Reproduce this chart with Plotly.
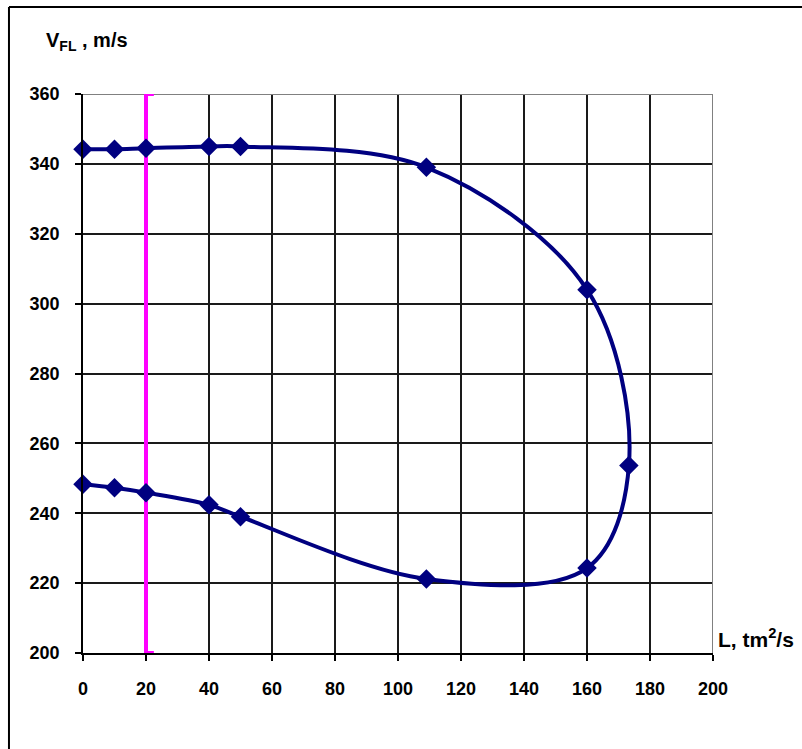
import plotly.graph_objects as go

# Data (L in tm^2/s, V_FL in m/s), contour order
L_vals = [0, 10, 20, 40, 50, 109, 160, 173.3, 160, 109, 50, 40, 20, 10, 0]
V_vals = [344.2, 344.2, 344.5, 345, 345, 339, 304, 253.7, 224.3, 221.2, 239, 242.4, 245.9, 247.3, 248.3]

# Vertical limit line (magenta bracket)
limit_L = 20
limit_V = [200, 360]
bracket = 2.5

x_range = [0, 200]
y_range = [200, 360]
x_ticks = list(range(0, 201, 20))
y_ticks = list(range(200, 361, 20))

FONT = "Liberation Sans, Arial, sans-serif"
NAVY = "#000080"

fig = go.Figure()

# gray top/right plot-area edges
fig.add_trace(go.Scatter(
    x=[x_range[0], x_range[1], x_range[1]],
    y=[y_range[1], y_range[1], y_range[0]],
    mode="lines", line=dict(color="#808080", width=2),
    hoverinfo="skip", cliponaxis=False,
))

fig.add_trace(go.Scatter(
    x=[limit_L + bracket, limit_L, limit_L, limit_L + bracket],
    y=[limit_V[1], limit_V[1], limit_V[0], limit_V[0]],
    mode="lines",
    line=dict(color="#FF00FF", width=4),
    hoverinfo="skip",
    cliponaxis=False,
))

fig.add_trace(go.Scatter(
    x=L_vals, y=V_vals,
    mode="lines+markers",
    line=dict(color=NAVY, width=4, shape="spline", smoothing=1.0),
    marker=dict(symbol="diamond", size=15, color=NAVY),
    cliponaxis=False,
))

fig.update_layout(
    width=802, height=749,
    margin=dict(l=83, r=89, t=94, b=96),
    paper_bgcolor="white",
    plot_bgcolor="white",
    showlegend=False,
    font=dict(family=FONT, size=18, color="black"),
    xaxis=dict(
        range=x_range, tickvals=x_ticks,
        showgrid=True, gridcolor="#1a1a1a", gridwidth=1.5,
        showline=True, linecolor="black", linewidth=1.5,
        ticks="outside", ticklen=6, tickcolor="black", tickwidth=1.5,
        tickfont=dict(family=FONT, size=18, color="black", weight="bold"),
        zeroline=False, fixedrange=True, ticklabelstandoff=13,
    ),
    yaxis=dict(
        range=y_range, tickvals=y_ticks,
        showgrid=True, gridcolor="#1a1a1a", gridwidth=1.5,
        showline=True, linecolor="black", linewidth=1.5,
        ticks="outside", ticklen=6, tickcolor="black", tickwidth=1.5,
        tickfont=dict(family=FONT, size=18, color="black", weight="bold"),
        zeroline=False, fixedrange=True, ticklabelstandoff=12,
    ),
    shapes=[
        # outer frame (left and top)
        dict(type="line", xref="paper", yref="paper", x0=-0.1175, x1=-0.1175, y0=1.1556, y1=-0.25,
             line=dict(color="black", width=2)),
        dict(type="line", xref="paper", yref="paper", x0=-0.1175, x1=1.25, y0=1.1556, y1=1.1556,
             line=dict(color="black", width=2)),
    ],
    annotations=[
        dict(text="<b>V<sub>FL</sub> , m/s</b>", xref="paper", yref="paper",
             x=-0.062, y=1.094, xanchor="left", yanchor="middle", showarrow=False,
             font=dict(family=FONT, size=20, color="black")),
        dict(text="<b>L, tm<sup>2</sup>/s</b>", xref="paper", yref="paper",
             x=1.004, y=0.027, xanchor="left", yanchor="middle", showarrow=False,
             font=dict(family=FONT, size=21, color="black")),
    ],
)

fig.write_html("out.html")
